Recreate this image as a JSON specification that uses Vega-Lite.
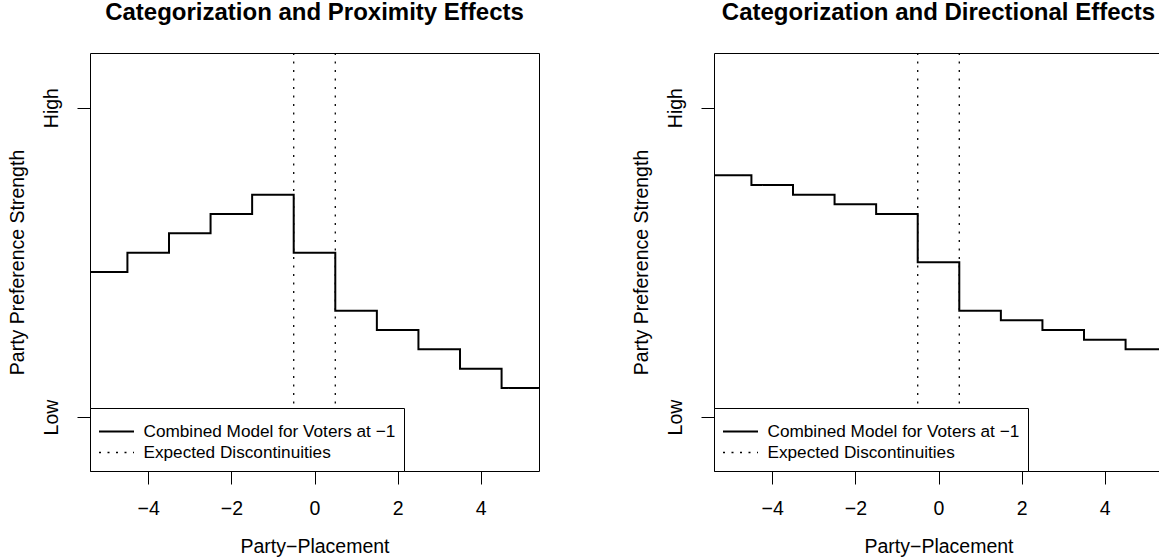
{
  "$schema": "https://vega.github.io/schema/vega-lite/v6.json",
  "padding": {"left": 6, "top": 0, "right": 0, "bottom": 0},
  "background": "white",
  "config": {
    "font": "Liberation Sans",
    "view": {"stroke": "black", "strokeWidth": 1},
    "title": {"fontSize": 24, "fontWeight": "bold", "color": "black", "anchor": "middle", "baseline": "alphabetic", "offset": 27},
    "axis": {"grid": false, "domain": false, "tickColor": "black", "labelColor": "black", "titleColor": "black", "labelFontSize": 19.5, "titleFontSize": 19.5, "titleFontWeight": "normal", "tickSize": 13, "tickWidth": 1, "labelFlush": false, "labelOverlap": false},
    "legend": {"orient": "bottom-left", "offset": 0, "strokeColor": "black", "fillColor": "white", "padding": 8, "symbolType": "stroke", "symbolSize": 1225, "symbolStrokeColor": "black", "labelFontSize": 17.2, "labelOffset": 8.5, "clipHeight": 21, "rowPadding": 0, "titleFontSize": 3, "titlePadding": 2, "labelColor": "black", "cornerRadius": 0, "labelLimit": 0}
  },
  "datasets": {
    "prox": [
      {"x": -5.5, "y": 0.46875, "series": "Combined Model for Voters at −1"},
      {"x": -4.5, "y": 0.53125, "series": "Combined Model for Voters at −1"},
      {"x": -3.5, "y": 0.59375, "series": "Combined Model for Voters at −1"},
      {"x": -2.5, "y": 0.65625, "series": "Combined Model for Voters at −1"},
      {"x": -1.5, "y": 0.71875, "series": "Combined Model for Voters at −1"},
      {"x": -0.5, "y": 0.53125, "series": "Combined Model for Voters at −1"},
      {"x": 0.5, "y": 0.34375, "series": "Combined Model for Voters at −1"},
      {"x": 1.5, "y": 0.28125, "series": "Combined Model for Voters at −1"},
      {"x": 2.5, "y": 0.21875, "series": "Combined Model for Voters at −1"},
      {"x": 3.5, "y": 0.15625, "series": "Combined Model for Voters at −1"},
      {"x": 4.5, "y": 0.09375, "series": "Combined Model for Voters at −1"},
      {"x": 5.5, "y": 0.09375, "series": "Combined Model for Voters at −1"}
    ],
    "dir": [
      {"x": -5.5, "y": 0.78125, "series": "Combined Model for Voters at −1"},
      {"x": -4.5, "y": 0.75, "series": "Combined Model for Voters at −1"},
      {"x": -3.5, "y": 0.71875, "series": "Combined Model for Voters at −1"},
      {"x": -2.5, "y": 0.6875, "series": "Combined Model for Voters at −1"},
      {"x": -1.5, "y": 0.65625, "series": "Combined Model for Voters at −1"},
      {"x": -0.5, "y": 0.5, "series": "Combined Model for Voters at −1"},
      {"x": 0.5, "y": 0.34375, "series": "Combined Model for Voters at −1"},
      {"x": 1.5, "y": 0.3125, "series": "Combined Model for Voters at −1"},
      {"x": 2.5, "y": 0.28125, "series": "Combined Model for Voters at −1"},
      {"x": 3.5, "y": 0.25, "series": "Combined Model for Voters at −1"},
      {"x": 4.5, "y": 0.21875, "series": "Combined Model for Voters at −1"},
      {"x": 5.5, "y": 0.21875, "series": "Combined Model for Voters at −1"}
    ],
    "disc": [
      {"x": -0.5, "series": "Expected Discontinuities"},
      {"x": 0.5, "series": "Expected Discontinuities"}
    ]
  },
  "spacing": 90,
  "resolve": {"legend": {"strokeDash": "independent", "strokeWidth": "independent"}},
  "hconcat": [
    {
      "width": 449,
      "height": 418,
      "title": {"text": "Categorization and Proximity Effects"},
      "layer": [
        {
          "data": {"name": "disc"},
          "mark": {"type": "rule", "color": "black"},
          "encoding": {
            "x": {"field": "x", "type": "quantitative", "scale": {"domain": [-5.4, 5.4], "nice": false, "zero": false}, "axis": {"values": [-4, -2, 0, 2, 4], "labelPadding": 15, "title": "Party−Placement", "titlePadding": 20}},
            "strokeDash": {"field": "series", "type": "nominal", "scale": {"domain": ["Combined Model for Voters at −1", "Expected Discontinuities"], "range": [[1, 0], [2, 6.5]]}, "legend": {"title": " "}},
            "strokeWidth": {"field": "series", "type": "nominal", "scale": {"type": "ordinal", "domain": ["Combined Model for Voters at −1", "Expected Discontinuities"], "range": [2, 1.3]}, "legend": {"title": " "}}
          }
        },
        {
          "data": {"name": "prox"},
          "mark": {"type": "line", "interpolate": "step-after", "clip": true, "color": "black"},
          "encoding": {
            "x": {"field": "x", "type": "quantitative", "scale": {"domain": [-5.4, 5.4], "nice": false, "zero": false}, "axis": {"values": [-4, -2, 0, 2, 4], "labelPadding": 15, "title": "Party−Placement", "titlePadding": 20}},
            "y": {"field": "y", "type": "quantitative", "scale": {"domain": [-0.1745, 1.1765], "nice": false, "zero": false}, "axis": {"values": [0, 1], "labelExpr": "datum.value === 1 ? 'High' : 'Low'", "labelAngle": -90, "labelAlign": "center", "labelBaseline": "bottom", "labelPadding": 16, "title": "Party Preference Strength", "titlePadding": 14}},
            "strokeDash": {"field": "series", "type": "nominal", "scale": {"domain": ["Combined Model for Voters at −1", "Expected Discontinuities"], "range": [[1, 0], [2, 6.5]]}, "legend": {"title": " "}},
            "strokeWidth": {"field": "series", "type": "nominal", "scale": {"type": "ordinal", "domain": ["Combined Model for Voters at −1", "Expected Discontinuities"], "range": [2, 1.3]}, "legend": {"title": " "}}
          }
        }
      ]
    },
    {
      "width": 449,
      "height": 418,
      "title": {"text": "Categorization and Directional Effects"},
      "layer": [
        {
          "data": {"name": "disc"},
          "mark": {"type": "rule", "color": "black"},
          "encoding": {
            "x": {"field": "x", "type": "quantitative", "scale": {"domain": [-5.4, 5.4], "nice": false, "zero": false}, "axis": {"values": [-4, -2, 0, 2, 4], "labelPadding": 15, "title": "Party−Placement", "titlePadding": 20}},
            "strokeDash": {"field": "series", "type": "nominal", "scale": {"domain": ["Combined Model for Voters at −1", "Expected Discontinuities"], "range": [[1, 0], [2, 6.5]]}, "legend": {"title": " "}},
            "strokeWidth": {"field": "series", "type": "nominal", "scale": {"type": "ordinal", "domain": ["Combined Model for Voters at −1", "Expected Discontinuities"], "range": [2, 1.3]}, "legend": {"title": " "}}
          }
        },
        {
          "data": {"name": "dir"},
          "mark": {"type": "line", "interpolate": "step-after", "clip": true, "color": "black"},
          "encoding": {
            "x": {"field": "x", "type": "quantitative", "scale": {"domain": [-5.4, 5.4], "nice": false, "zero": false}, "axis": {"values": [-4, -2, 0, 2, 4], "labelPadding": 15, "title": "Party−Placement", "titlePadding": 20}},
            "y": {"field": "y", "type": "quantitative", "scale": {"domain": [-0.1745, 1.1765], "nice": false, "zero": false}, "axis": {"values": [0, 1], "labelExpr": "datum.value === 1 ? 'High' : 'Low'", "labelAngle": -90, "labelAlign": "center", "labelBaseline": "bottom", "labelPadding": 16, "title": "Party Preference Strength", "titlePadding": 14}},
            "strokeDash": {"field": "series", "type": "nominal", "scale": {"domain": ["Combined Model for Voters at −1", "Expected Discontinuities"], "range": [[1, 0], [2, 6.5]]}, "legend": {"title": " "}},
            "strokeWidth": {"field": "series", "type": "nominal", "scale": {"type": "ordinal", "domain": ["Combined Model for Voters at −1", "Expected Discontinuities"], "range": [2, 1.3]}, "legend": {"title": " "}}
          }
        }
      ]
    }
  ]
}
